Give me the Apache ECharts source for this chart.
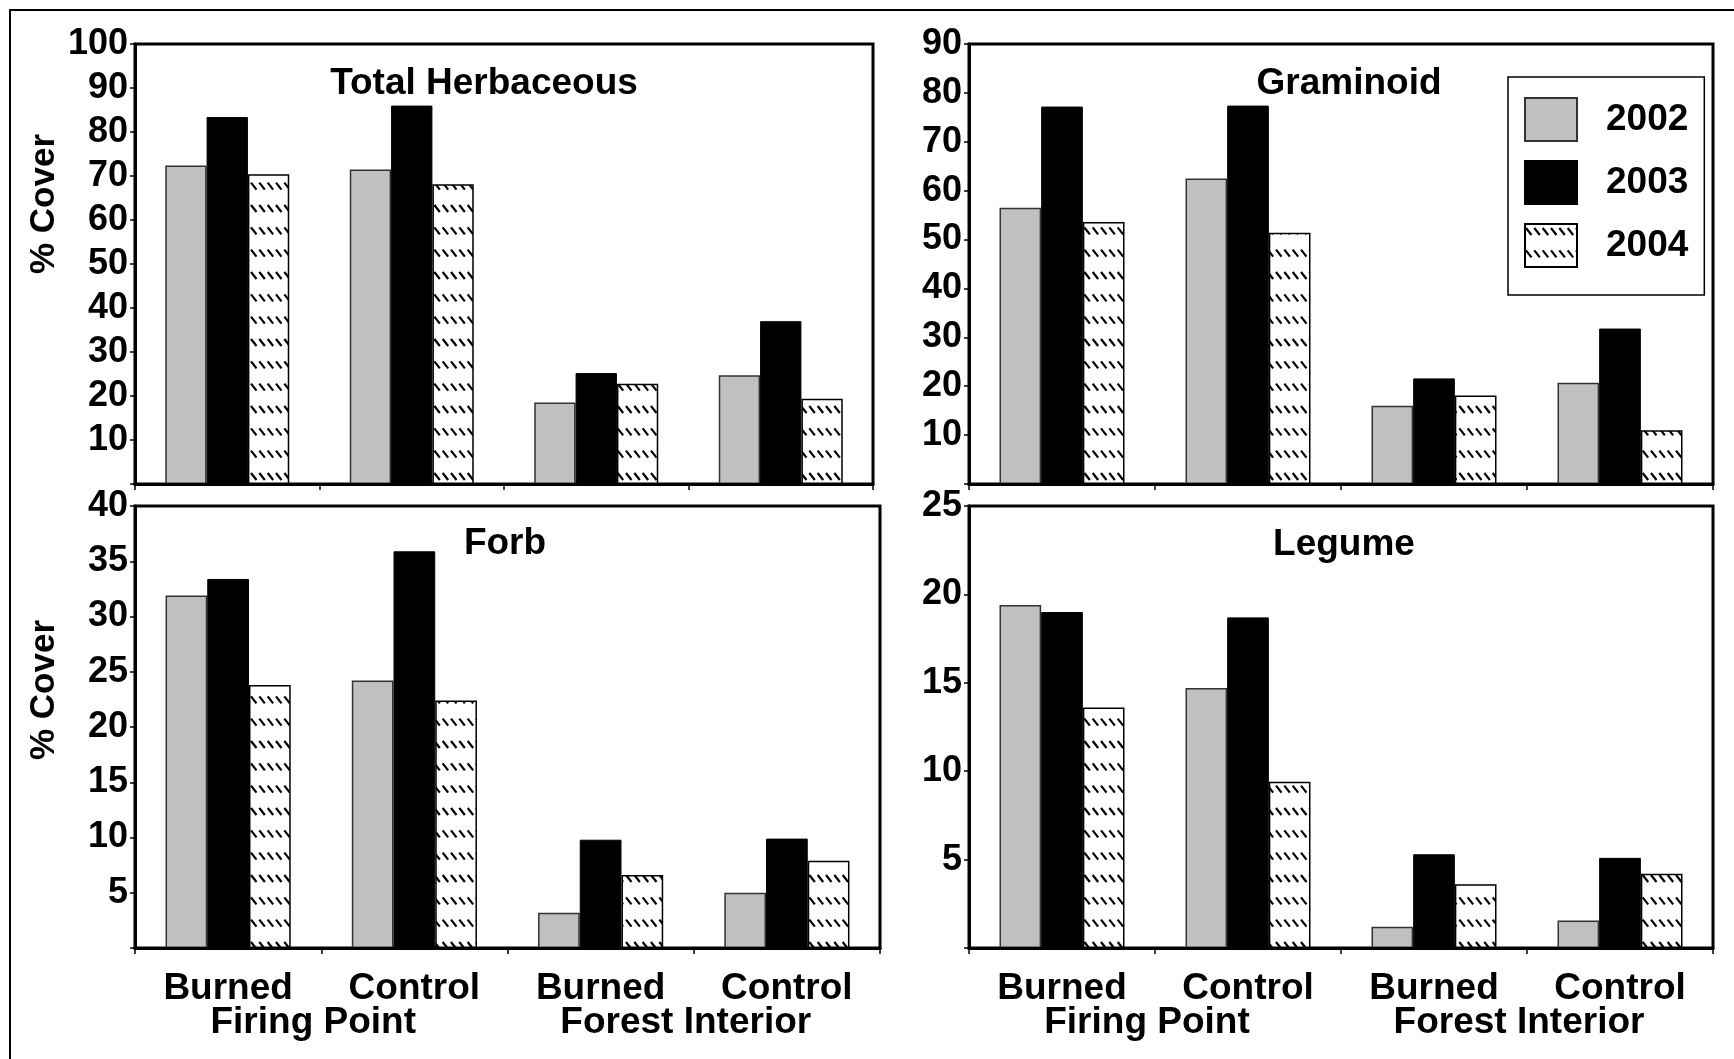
<!DOCTYPE html>
<html>
<head>
<meta charset="utf-8">
<script src="https://cdn.jsdelivr.net/npm/echarts@6/dist/echarts.min.js"></script>
<style>
  html, body { margin: 0; padding: 0; background: #fff; }
  #chart { width: 1734px; height: 1059px; }
</style>
</head>
<body>
<div id="chart"></div>
<script>
// ---- data ----
const years = ['2002', '2003', '2004'];
const categories = ['Burned', 'Control', 'Burned', 'Control'];
const groups = ['Firing Point', 'Forest Interior'];
const panelTitles = ['Total Herbaceous', 'Graminoid', 'Forb', 'Legume'];

const herb2002 = [72.4, 71.5, 18.5, 24.7];
const herb2003 = [83.4, 86.0, 25.2, 37.0];
const herb2004 = [70.4, 68.1, 22.8, 19.4];

const gram2002 = [56.5, 62.5, 16.0, 20.7];
const gram2003 = [77.2, 77.4, 21.6, 31.8];
const gram2004 = [53.6, 51.4, 18.1, 11.0];

const forb2002 = [31.9, 24.2, 3.2, 5.0];
const forb2003 = [33.4, 35.9, 9.8, 9.9];
const forb2004 = [23.8, 22.4, 6.6, 7.9];

const leg2002 = [19.4, 14.7, 1.2, 1.55];
const leg2003 = [19.0, 18.7, 5.3, 5.1];
const leg2004 = [13.6, 9.4, 3.6, 4.2];

const yMax = [100, 90, 40, 25];
const yStep = [10, 10, 5, 5];
const yAxisTitle = '% Cover';

// ---- styling helpers ----
const FONT = '"Liberation Sans", Arial, Helvetica, sans-serif';

function makeHatch() {
  const c = document.createElement('canvas');
  c.width = 25; c.height = 67;
  const g = c.getContext('2d');
  g.fillStyle = '#ffffff';
  g.fillRect(0, 0, 25, 67);
  g.strokeStyle = '#000000';
  g.lineWidth = 2.2;
  g.lineCap = 'butt';
  for (let r = 0; r < 3; r++) {
    for (let k = 0; k < 3; k++) {
      const x = k * 25 / 3 + 1, y = r * 67 / 3 + 4;
      g.beginPath(); g.moveTo(x, y); g.lineTo(x + 5.5, y + 7); g.stroke();
    }
  }
  return c;
}
const hatch = { image: makeHatch(), repeat: 'repeat' };

const yearStyles = [
  { color: '#c0c0c0', borderColor: '#333333', borderWidth: 1.5 },
  { color: '#000000', borderColor: '#000000', borderWidth: 1 },
  { color: hatch, borderColor: '#000000', borderWidth: 1.5 }
];

const panelData = [
  [herb2002, herb2003, herb2004],
  [gram2002, gram2003, gram2004],
  [forb2002, forb2003, forb2004],
  [leg2002, leg2003, leg2004]
];

const grids = [
  { left: 135, top: 44, width: 738, height: 440 },
  { left: 969, top: 44, width: 744, height: 440 },
  { left: 135, top: 506, width: 745, height: 442 },
  { left: 969, top: 506, width: 744, height: 442 }
];

const titlePos = [
  { x: 484, y: 82 }, { x: 1349, y: 82 }, { x: 505, y: 542 }, { x: 1344, y: 543 }
];

const option = {
  animation: false,
  backgroundColor: '#ffffff',
  textStyle: { fontFamily: FONT },
  grid: grids.map(g => Object.assign({ show: true, borderColor: '#000', borderWidth: 3, backgroundColor: 'transparent', containLabel: false }, g)),
  title: panelTitles.map((t, i) => ({
    text: t,
    left: titlePos[i].x, top: titlePos[i].y - 17,
    textAlign: 'center',
    padding: 0,
    textStyle: { fontFamily: FONT, fontWeight: 'bold', fontSize: 37, color: '#000' }
  })),
  legend: {
    data: years,
    orient: 'vertical',
    left: 1508, top: 77,
    padding: [20, 16, 27, 16],
    itemWidth: 52, itemHeight: 43, itemGap: 18,
    icon: 'rect',
    selectedMode: false,
    backgroundColor: '#fff',
    borderColor: '#000', borderWidth: 1.5,
    textStyle: { fontFamily: FONT, fontWeight: 'bold', fontSize: 37, color: '#000', padding: [0, 0, 0, 24] }
  },
  xAxis: [],
  yAxis: [],
  series: [],
  graphic: [{
    type: 'rect', z: 100, silent: true,
    shape: { x: 10, y: 10, width: 1800, height: 1100 },
    style: { fill: 'none', stroke: '#000', lineWidth: 2 }
  }]
};

for (let i = 0; i < 4; i++) {
  const bottom = i >= 2;
  option.xAxis.push({
    type: 'category', gridIndex: i, data: categories, z: 10,
    axisLine: { show: true, lineStyle: { color: '#000', width: 3 } },
    axisTick: { show: true, length: 6, lineStyle: { color: '#000', width: 1.5 } },
    axisLabel: {
      show: bottom, interval: 0, margin: 22,
      fontFamily: FONT, fontWeight: 'bold', fontSize: 37, color: '#000'
    }
  });
  option.yAxis.push({
    type: 'value', gridIndex: i, min: 0, max: yMax[i], interval: yStep[i],
    splitLine: { show: false },
    axisLine: { show: true, lineStyle: { color: '#000', width: 3 } },
    axisTick: { show: true, length: 5, lineStyle: { color: '#000', width: 1.5 } },
    axisLabel: {
      margin: 7, fontFamily: FONT, fontWeight: 'bold', fontSize: 36, color: '#000',
      formatter: v => (v === 0 ? '' : String(v))
    },
    name: (i === 0 || i === 2) ? yAxisTitle : '',
    nameLocation: 'middle',
    nameRotate: 90,
    nameGap: 73,
    nameTextStyle: {
      fontFamily: FONT, fontWeight: 'bold', fontSize: 35, color: '#000',
      padding: [0, 0, 0, i === 0 ? 120 : 74]
    }
  });
  for (let s = 0; s < 3; s++) {
    option.series.push({
      type: 'bar', name: years[s],
      xAxisIndex: i, yAxisIndex: i,
      data: panelData[i][s],
      barWidth: '22.4%', barGap: '0%',
      itemStyle: yearStyles[s]
    });
  }
}

// group labels under the bottom panels
[2, 3].forEach(i => {
  option.xAxis.push({
    type: 'category', gridIndex: i, data: groups, position: 'bottom', offset: 40,
    axisLine: { show: false }, axisTick: { show: false },
    axisLabel: {
      interval: 0, margin: 16, padding: [0, 16, 0, 0],
      fontFamily: FONT, fontWeight: 'bold', fontSize: 37, color: '#000'
    }
  });
});

const chart = echarts.init(document.getElementById('chart'), null, { renderer: 'canvas' });
chart.setOption(option);
</script>
</body>
</html>
